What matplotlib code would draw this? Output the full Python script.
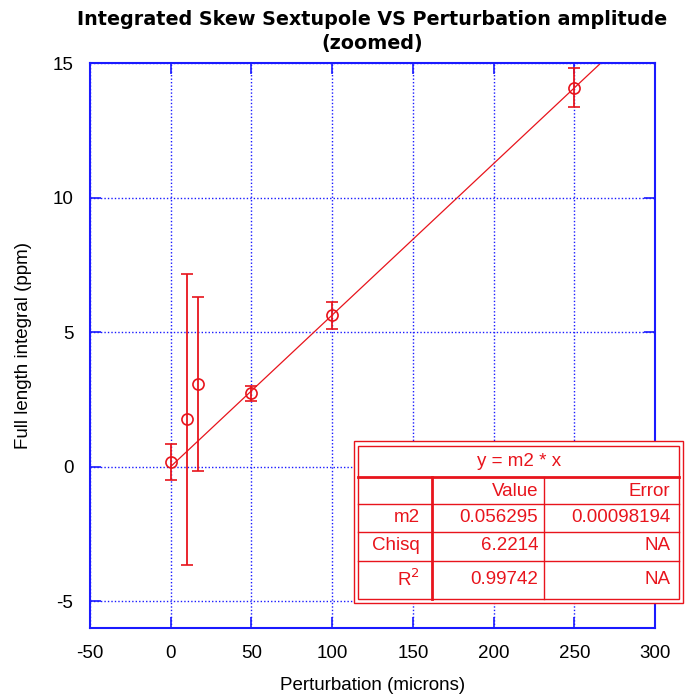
import numpy as np
import matplotlib.pyplot as plt
from matplotlib.patches import Rectangle
from matplotlib.lines import Line2D

plt.rcParams['font.family'] = ['Liberation Sans', 'DejaVu Sans']
plt.rcParams['axes.unicode_minus'] = False

# datos medidos
perturb = [0, 10, 17, 50, 100, 250]
integral = [0.16, 1.75, 3.07, 2.72, 5.62, 14.08]
errores = [0.67, 5.4, 3.23, 0.28, 0.5, 0.73]

# ajuste y = m2 * x
m2 = 0.056295
tabla_filas = ["m2", "Chisq", "R$^2$"]
tabla_valor = ["0.056295", "6.2214", "0.99742"]
tabla_error = ["0.00098194", "NA", "NA"]

W, H = 687, 698
fig = plt.figure(figsize=(W / 100, H / 100), dpi=100)
ax = fig.add_axes([90 / W, 1 - 628 / H, 565 / W, 565 / H])

rojo = '#e8141c'
azul = '#1a1aff'

x_fit = np.linspace(0, 300, 200)
ax.plot(x_fit, m2 * x_fit, color=rojo, lw=0.9)
ax.errorbar(perturb, integral, yerr=errores, fmt='o', mfc='none', mec=rojo,
            ecolor=rojo, color=rojo, ms=8, mew=1.2, elinewidth=1.3,
            capsize=4, capthick=1.3)

ax.set_xlim(-50, 300)
ax.set_ylim(-6, 15)
ax.set_xticks(np.arange(-50, 301, 50))
ax.set_yticks([-5, 0, 5, 10, 15])
ax.grid(True, color=azul, linestyle=(0, (1, 1.5)), lw=1)
for s in ax.spines.values():
    s.set_color(azul)
    s.set_linewidth(1.5)
ax.tick_params(direction='in', length=8, width=1.2, color=azul,
               top=True, right=True, labelsize=13.5, pad=12)

ax.set_title("Integrated Skew Sextupole VS Perturbation amplitude\n(zoomed)",
             fontsize=13.8, fontweight='bold', pad=10, linespacing=1.35,
             family=['DejaVu Sans'])
ax.set_xlabel("Perturbation (microns)", fontsize=13.5, labelpad=11)
ax.set_ylabel("Full length integral (ppm)", fontsize=13.5, labelpad=15)

# tabla del ajuste (en pixeles de la figura)
def fx(px):
    return px / W

def fy(py):
    return 1 - py / H

def linea(x0, y0, x1, y1, lw=1.0):
    fig.add_artist(Line2D([fx(x0), fx(x1)], [fy(y0), fy(y1)], color=rojo, lw=lw))

fig.add_artist(Rectangle((fx(354), fy(603)), fx(683) - fx(354), fy(441) - fy(603),
                         facecolor='white', edgecolor=rojo, lw=1.0))
fig.add_artist(Rectangle((fx(358), fy(599)), fx(679) - fx(358), fy(446) - fy(599),
                         facecolor='none', edgecolor=rojo, lw=1.0))
linea(358, 477, 679, 477, lw=2.0)
for yy in [504, 532, 561]:
    linea(358, yy, 679, yy)
linea(432, 477, 432, 599, lw=2.0)
linea(544, 477, 544, 599)

fs = 13.5
fig.text(fx(519), fy(462), "y = m2 * x", color=rojo, fontsize=fs, ha='center', va='center')
fig.text(fx(538), fy(491), "Value", color=rojo, fontsize=fs, ha='right', va='center')
fig.text(fx(670), fy(491), "Error", color=rojo, fontsize=fs, ha='right', va='center')
for i, yy in enumerate([518, 546, 579]):
    fig.text(fx(420), fy(yy), tabla_filas[i], color=rojo, fontsize=fs, ha='right', va='center')
    fig.text(fx(538), fy(yy), tabla_valor[i], color=rojo, fontsize=fs, ha='right', va='center')
    fig.text(fx(670), fy(yy), tabla_error[i], color=rojo, fontsize=fs, ha='right', va='center')

fig.savefig("out.png", dpi=100)
